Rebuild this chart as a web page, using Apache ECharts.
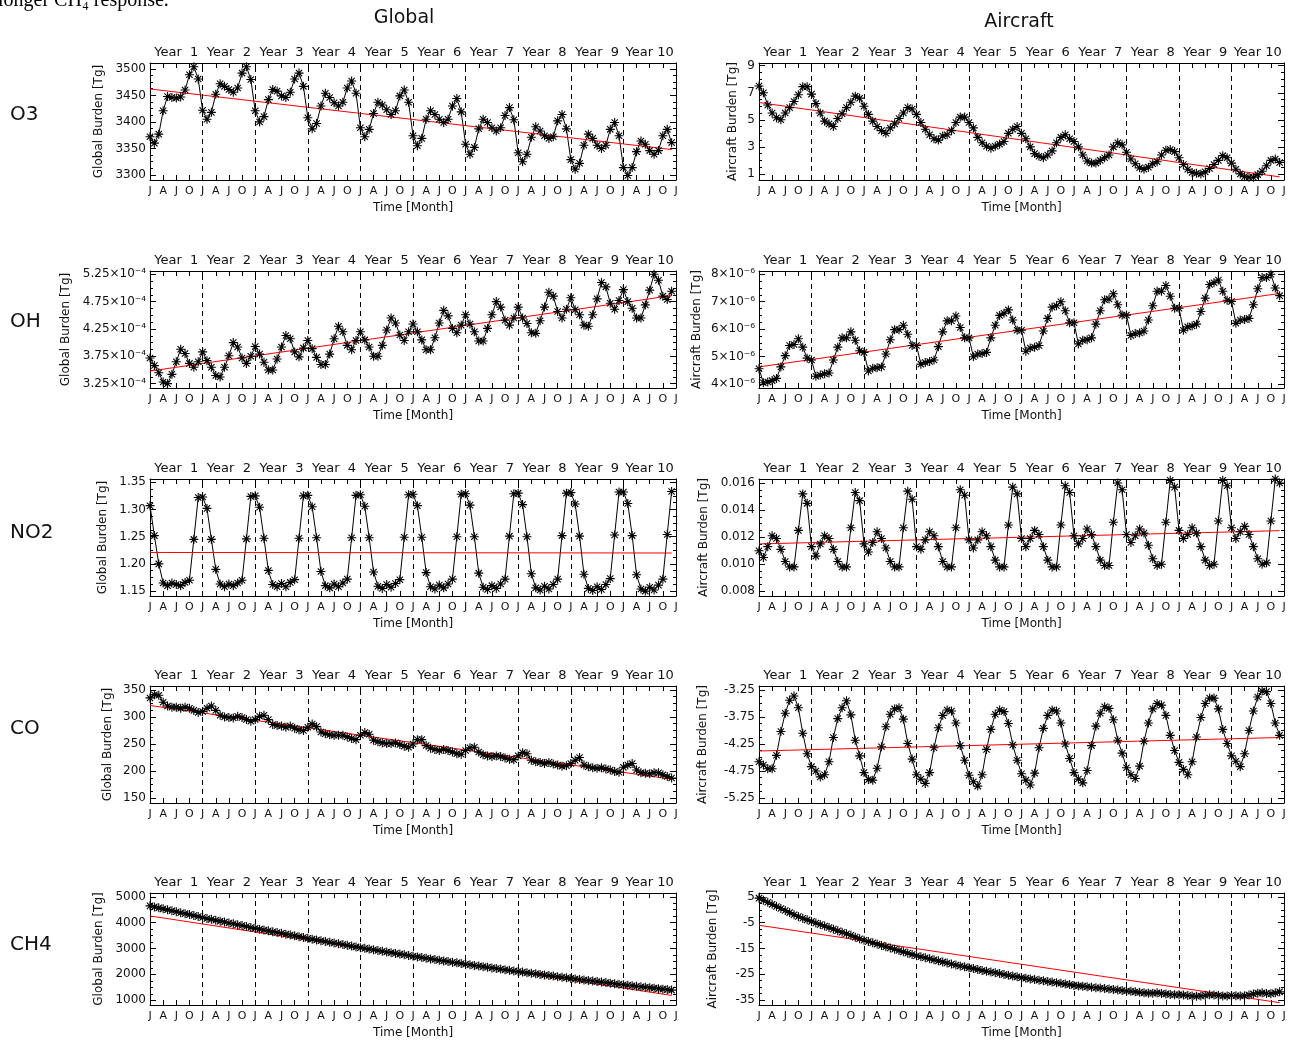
<!DOCTYPE html>
<html><head><meta charset="utf-8">
<script src="https://cdn.jsdelivr.net/npm/echarts@6/dist/echarts.min.js"></script>
<style>html,body{margin:0;padding:0;background:#fff}#c{width:1297px;height:1040px}</style>
</head><body><div id="c"></div><script>
const monthLabels = ['J','A','J','O'];
const yearLabels = ['Year  1','Year  2','Year  3','Year  4','Year  5','Year  6','Year  7','Year  8','Year  9','Year 10'];
const yearBoundaries = [12,24,36,48,60,72,84,96,108];
const rowNames = ['O3','OH','NO2','CO','CH4'];

const o3Global = [
3372,3360,3377,3421,3448,3446,3445,3447,3460,3489,3504,3481,
3422,3405,3418,3452,3472,3467,3461,3456,3464,3492,3504,3480,
3421,3400,3410,3442,3461,3458,3449,3446,3456,3481,3492,3467,
3408,3387,3397,3430,3454,3446,3436,3430,3437,3464,3477,3454,
3389,3372,3386,3416,3437,3432,3423,3414,3421,3449,3460,3437,
3374,3355,3369,3405,3421,3414,3405,3399,3405,3430,3444,3419,
3358,3339,3352,3387,3405,3399,3389,3383,3389,3412,3427,3404,
3342,3325,3339,3371,3391,3383,3374,3369,3372,3402,3414,3387,
3329,3311,3322,3356,3377,3369,3356,3350,3356,3386,3399,3374,
3314,3299,3314,3344,3364,3358,3346,3339,3346,3374,3386,3361];
const o3Aircraft = [
7.5,7.0,6.1,5.5,5.15,5.0,5.5,5.9,6.35,6.85,7.45,7.45,
6.9,6.2,5.5,4.9,4.7,4.5,5.1,5.45,5.9,6.3,6.75,6.6,
6.0,5.4,4.9,4.5,4.2,4.0,4.4,4.7,5.1,5.5,5.9,5.8,
5.4,4.8,4.3,3.9,3.6,3.5,3.8,3.9,4.2,4.8,5.2,5.2,
4.8,4.4,3.7,3.3,3.05,2.9,3.05,3.2,3.4,4.0,4.3,4.5,
4.0,3.6,3.0,2.5,2.3,2.2,2.4,2.7,3.3,3.7,3.9,3.6,
3.4,3.0,2.4,1.95,1.8,1.8,2.0,2.2,2.4,3.0,3.3,3.15,
2.6,2.1,1.75,1.45,1.35,1.5,1.75,1.9,2.4,2.75,2.8,2.65,
2.2,1.7,1.35,1.1,1.05,1.0,1.15,1.4,1.7,2.0,2.35,2.2,
1.8,1.35,1.0,0.8,0.75,0.75,0.95,1.2,1.6,2.0,2.1,1.85];
// OH global in units of 1e-4 Tg
const ohGlobalE4 = [
3.72,3.58,3.45,3.28,3.25,3.42,3.65,3.88,3.80,3.62,3.55,3.65,
3.83,3.67,3.55,3.40,3.37,3.55,3.76,4.00,3.92,3.72,3.62,3.75,
3.93,3.79,3.64,3.50,3.50,3.70,3.92,4.13,4.07,3.83,3.74,3.90,
4.04,3.89,3.73,3.60,3.60,3.79,4.07,4.30,4.20,3.95,3.87,4.04,
4.20,4.05,3.92,3.75,3.75,3.95,4.23,4.45,4.36,4.14,4.04,4.20,
4.34,4.20,4.05,3.87,3.87,4.09,4.36,4.59,4.49,4.26,4.18,4.32,
4.51,4.34,4.20,4.03,4.03,4.26,4.51,4.75,4.65,4.41,4.32,4.45,
4.65,4.45,4.35,4.18,4.17,4.40,4.65,4.92,4.85,4.57,4.45,4.61,
4.82,4.60,4.51,4.32,4.30,4.51,4.80,5.10,5.02,4.72,4.61,4.77,
4.97,4.75,4.63,4.45,4.45,4.69,4.96,5.25,5.14,4.85,4.79,4.94];
// OH aircraft in units of 1e-6 Tg
const ohAircraftE6 = [
4.55,4.04,4.07,4.12,4.20,4.62,5.03,5.40,5.44,5.65,5.34,4.94,
4.87,4.28,4.32,4.37,4.40,4.87,5.34,5.68,5.68,5.90,5.59,5.21,
5.15,4.47,4.57,4.59,4.62,5.09,5.61,5.98,5.98,6.14,5.81,5.40,
5.40,4.72,4.78,4.82,4.87,5.36,5.90,6.30,6.30,6.48,6.06,5.68,
5.68,4.99,5.09,5.11,5.15,5.68,6.14,6.50,6.58,6.70,6.33,5.96,
5.96,5.19,5.31,5.34,5.40,5.93,6.39,6.80,6.85,7.00,6.67,6.23,
6.23,5.46,5.59,5.61,5.68,6.18,6.67,7.07,7.10,7.29,6.89,6.51,
6.51,5.77,5.84,5.86,5.93,6.33,6.85,7.38,7.38,7.59,7.20,6.76,
6.76,5.96,6.08,6.11,6.18,6.64,7.13,7.63,7.69,7.79,7.38,7.05,
7.01,6.21,6.33,6.35,6.39,6.89,7.47,7.88,7.88,8.00,7.50,7.22];
const no2Global = [
1.307,1.252,1.200,1.165,1.160,1.165,1.162,1.160,1.166,1.170,1.245,1.322,
1.323,1.302,1.245,1.190,1.163,1.158,1.163,1.160,1.165,1.170,1.246,1.324,
1.325,1.304,1.247,1.188,1.162,1.158,1.164,1.158,1.166,1.171,1.247,1.325,
1.326,1.305,1.248,1.186,1.160,1.156,1.163,1.158,1.165,1.172,1.248,1.326,
1.327,1.306,1.248,1.185,1.159,1.155,1.162,1.157,1.164,1.171,1.249,1.327,
1.328,1.307,1.249,1.184,1.158,1.154,1.161,1.156,1.163,1.172,1.250,1.328,
1.329,1.308,1.250,1.183,1.157,1.153,1.160,1.155,1.163,1.172,1.251,1.329,
1.330,1.309,1.250,1.182,1.156,1.152,1.159,1.154,1.162,1.172,1.252,1.330,
1.331,1.310,1.251,1.181,1.155,1.151,1.158,1.153,1.162,1.173,1.253,1.332,
1.332,1.311,1.252,1.180,1.154,1.150,1.157,1.152,1.161,1.172,1.254,1.333];
const no2Aircraft = [
0.0110,0.0105,0.0113,0.0121,0.0119,0.0111,0.0102,0.0098,0.0098,0.0125,0.0152,0.0145,
0.0113,0.0106,0.0115,0.0121,0.0119,0.0111,0.0102,0.0098,0.0098,0.0127,0.0153,0.0147,
0.0115,0.0109,0.0116,0.0124,0.0119,0.0112,0.0102,0.0098,0.0098,0.0127,0.0154,0.0148,
0.0113,0.0111,0.0118,0.0124,0.0121,0.0113,0.0102,0.0098,0.0098,0.0127,0.0155,0.0151,
0.0118,0.0112,0.0118,0.0124,0.0121,0.0113,0.0103,0.0098,0.0098,0.0129,0.0157,0.0152,
0.0119,0.0113,0.0119,0.0125,0.0122,0.0113,0.0103,0.0098,0.0098,0.0129,0.0158,0.0153,
0.0121,0.0115,0.0119,0.0126,0.0122,0.0113,0.0103,0.0099,0.0099,0.0131,0.0160,0.0155,
0.0122,0.0116,0.0121,0.0126,0.0123,0.0114,0.0104,0.0099,0.0100,0.0131,0.0162,0.0157,
0.0125,0.0119,0.0122,0.0127,0.0123,0.0113,0.0103,0.0099,0.0100,0.0132,0.0162,0.0158,
0.0127,0.0119,0.0124,0.0128,0.0122,0.0113,0.0104,0.0100,0.0101,0.0132,0.0163,0.0160];
const coGlobal = [
335,341,340,327,320,318,318,316,318,316,312,308,
310,316,320,312,303,300,299,298,301,299,295,292,
295,301,303,295,286,284,283,281,283,279,276,275,
281,287,282,272,269,267,266,266,266,263,260,258,
266,271,268,257,254,252,251,251,252,249,246,244,
250,258,258,247,242,240,238,240,238,235,232,231,
238,243,244,235,230,228,227,228,227,224,222,221,
228,234,232,220,217,216,214,216,213,211,209,210,
214,220,225,211,208,206,205,206,204,202,199,198,
207,211,214,202,197,196,195,197,197,193,190,187];
const coAircraft = [
-4.58,-4.64,-4.71,-4.71,-4.46,-4.02,-3.68,-3.44,-3.36,-3.58,-4.05,-4.43,
-4.67,-4.75,-4.86,-4.82,-4.58,-4.13,-3.78,-3.58,-3.45,-3.71,-4.18,-4.47,
-4.78,-4.91,-4.92,-4.70,-4.30,-3.93,-3.70,-3.60,-3.58,-3.79,-4.24,-4.53,
-4.82,-4.90,-4.98,-4.78,-4.32,-3.95,-3.72,-3.62,-3.64,-3.86,-4.28,-4.55,
-4.83,-4.95,-5.03,-4.82,-4.35,-3.98,-3.70,-3.62,-3.65,-3.87,-4.27,-4.55,
-4.80,-4.92,-5.01,-4.79,-4.32,-3.96,-3.72,-3.62,-3.64,-3.86,-4.25,-4.52,
-4.78,-4.90,-4.97,-4.74,-4.28,-3.92,-3.68,-3.56,-3.59,-3.80,-4.18,-4.42,
-4.69,-4.82,-4.89,-4.66,-4.20,-3.86,-3.60,-3.50,-3.53,-3.72,-4.09,-4.37,
-4.59,-4.72,-4.82,-4.58,-4.12,-3.76,-3.50,-3.40,-3.40,-3.60,-3.98,-4.24,
-4.47,-4.57,-4.67,-4.43,-4.00,-3.64,-3.38,-3.27,-3.28,-3.50,-3.86,-4.09];
const ch4Global = [
4650,4611,4573,4535,4497,4460,4423,4386,4349,4312,4275,4237,
4199,4164,4129,4094,4059,4024,3990,3956,3922,3888,3850,3815,
3781,3749,3716,3684,3652,3620,3588,3556,3524,3492,3459,3426,
3393,3363,3333,3303,3273,3243,3213,3183,3153,3123,3093,3063,
3034,3006,2978,2950,2923,2895,2867,2840,2812,2784,2757,2729,
2702,2676,2651,2625,2599,2574,2548,2522,2497,2471,2445,2420,
2394,2370,2346,2323,2299,2275,2251,2228,2204,2180,2157,2133,
2109,2087,2065,2043,2021,1999,1977,1955,1933,1911,1889,1867,
1844,1824,1803,1783,1762,1742,1722,1701,1681,1660,1640,1620,
1599,1580,1561,1542,1523,1505,1486,1467,1448,1429,1410,1391];
const ch4Aircraft = [
4.5,3.7,2.9,2.1,1.3,0.5,-0.3,-1.1,-1.9,-2.6,-3.3,-3.9,
-4.5,-5.1,-5.7,-6.3,-6.9,-7.5,-8.1,-8.7,-9.3,-9.9,-10.6,-11.2,
-11.8,-12.3,-12.8,-13.3,-13.8,-14.3,-14.8,-15.3,-15.8,-16.3,-16.8,-17.3,
-17.8,-18.2,-18.6,-19.0,-19.4,-19.8,-20.2,-20.6,-21.0,-21.4,-21.8,-22.1,
-22.5,-22.8,-23.1,-23.5,-23.8,-24.1,-24.4,-24.7,-25.1,-25.4,-25.7,-26.0,
-26.3,-26.5,-26.8,-27.0,-27.3,-27.5,-27.8,-28.0,-28.3,-28.5,-28.8,-29.0,
-29.3,-29.5,-29.6,-29.8,-30.0,-30.2,-30.3,-30.5,-30.7,-30.9,-31.1,-31.3,
-31.5,-31.6,-31.8,-32.0,-32.2,-32.3,-32.3,-32.2,-32.4,-32.6,-32.8,-32.9,
-32.9,-33.0,-33.2,-33.4,-33.5,-33.4,-33.1,-32.9,-33.0,-33.2,-33.4,-33.4,
-33.2,-33.3,-33.4,-33.3,-33.0,-32.6,-32.3,-32.2,-32.4,-32.5,-32.2,-31.8];

// linear trend lines: [value at first month, value at last month]
const o3GlobalTrend = [3462, 3348];
const o3AircraftTrend = [6.28, 0.78];
const ohGlobalTrendE4 = [3.48, 4.86];
const ohAircraftTrendE6 = [4.62, 7.30];
const no2GlobalTrend = [1.221, 1.220];
const no2AircraftTrend = [0.0115, 0.01248];
const coGlobalTrend = [321, 185];
const coAircraftTrend = [-4.38, -4.13];
const ch4GlobalTrend = [4260, 1185];
const ch4AircraftTrend = [-6.0, -36.0];

// y tick labels
const o3GlobalTicks = [3300,3350,3400,3450,3500];
const o3AircraftTicks = [1,3,5,7,9];
const ohGlobalTicksE4 = [3.25,3.75,4.25,4.75,5.25];
const ohAircraftTicksE6 = [4,5,6,7,8];
const no2GlobalTicks = [1.15,1.20,1.25,1.30,1.35];
const no2AircraftTicks = [0.008,0.010,0.012,0.014,0.016];
const coGlobalTicks = [150,200,250,300,350];
const coAircraftTicks = [-5.25,-4.75,-4.25,-3.75,-3.25];
const ch4GlobalTicks = [1000,2000,3000,4000,5000];
const ch4AircraftTicks = [-35,-25,-15,-5,5];

const FONT = '"DejaVu Sans", "Liberation Sans", sans-serif';
const TXT = '#111';
const rowTops = [63, 271, 479, 686, 893];
const GN = 'Global Burden [Tg]', AN = 'Aircraft Burden [Tg]';

const panels = [
 {row:0,col:0,data:o3Global,trend:o3GlobalTrend,ticks:o3GlobalTicks,range:[3290.6,3511],scale:1,fmt:v=>v.toFixed(0),name:GN,gap:45},
 {row:0,col:1,data:o3Aircraft,trend:o3AircraftTrend,ticks:o3AircraftTicks,range:[0.55,9.2],scale:1,fmt:v=>v.toFixed(0),name:AN,gap:20},
 {row:1,col:0,data:ohGlobalE4,trend:ohGlobalTrendE4,ticks:ohGlobalTicksE4,range:[3.17,5.31],scale:1e-4,fmt:v=>(v/1e-4).toFixed(2)+'×10⁻⁴',name:GN,gap:78},
 {row:1,col:1,data:ohAircraftE6,trend:ohAircraftTrendE6,ticks:ohAircraftTicksE6,range:[3.85,8.12],scale:1e-6,fmt:v=>(v/1e-6).toFixed(0)+'×10⁻⁶',name:AN,gap:56},
 {row:2,col:0,data:no2Global,trend:no2GlobalTrend,ticks:no2GlobalTicks,range:[1.141,1.356],scale:1,fmt:v=>v.toFixed(2),name:GN,gap:41},
 {row:2,col:1,data:no2Aircraft,trend:no2AircraftTrend,ticks:no2AircraftTicks,range:[0.00765,0.0163],scale:1,fmt:v=>v.toFixed(3),name:AN,gap:49},
 {row:3,col:0,data:coGlobal,trend:coGlobalTrend,ticks:coGlobalTicks,range:[141,357],scale:1,fmt:v=>v.toFixed(0),name:GN,gap:36},
 {row:3,col:1,data:coAircraft,trend:coAircraftTrend,ticks:coAircraftTicks,range:[-5.343,-3.176],scale:1,fmt:v=>v.toFixed(2),name:AN,gap:50},
 {row:4,col:0,data:ch4Global,trend:ch4GlobalTrend,ticks:ch4GlobalTicks,range:[815,5148],scale:1,fmt:v=>v.toFixed(0),name:GN,gap:45},
 {row:4,col:1,data:ch4Aircraft,trend:ch4AircraftTrend,ticks:ch4AircraftTicks,range:[-36.9,6.5],scale:1,fmt:v=>v.toFixed(0),name:AN,gap:40}
];

const STAR = 'path://M5,0L5,10M0,5L10,5M1.5,1.5L8.5,8.5M1.5,8.5L8.5,1.5';
const grids=[], xAxes=[], yAxes=[], series=[];
const lineAx = {show:true, onZero:false, lineStyle:{color:'#000', width:1}};
const noLine = {show:false, onZero:false};
panels.forEach((p,g)=>{
  const left = p.col===0 ? 150 : 759, width = p.col===0 ? 526 : 525, top = rowTops[p.row];
  grids.push({left, top, width, height:117});
  const s = p.scale;
  const min = p.range[0]*s, max = p.range[1]*s;
  const majors = p.ticks.map(v=>v*s);
  const step = (p.ticks[1]-p.ticks[0])/4;
  const minors = [];
  for (let k=-8; k<=24; k++) { const v = p.ticks[0] + k*step; if (v>=p.range[0] && v<=p.range[1] && k%4!==0) minors.push(v*s); }
  xAxes.push({gridIndex:g, type:'value', min:0, max:120, interval:3, position:'bottom',
    axisLine:lineAx, axisTick:{inside:true, length:5, lineStyle:{color:'#000'}}, splitLine:{show:false},
    axisLabel:{margin:6, fontSize:11, fontFamily:FONT, color:TXT, showMinLabel:true, showMaxLabel:true,
      formatter:v=>monthLabels[Math.round(v/3)%4]},
    name:'Time [Month]', nameLocation:'middle', nameGap:22, nameTextStyle:{fontSize:12, fontFamily:FONT, color:TXT}});
  xAxes.push({gridIndex:g, type:'value', min:0, max:120, interval:3, position:'top',
    axisLine:lineAx, axisTick:{inside:true, length:5, lineStyle:{color:'#000'}}, splitLine:{show:false},
    axisLabel:{margin:4, fontSize:13, fontFamily:FONT, color:TXT,
      formatter:v=>{const r=Math.round(v); return (r%12===6) ? yearLabels[(r-6)/12] : '';}}});
  const yBase = {gridIndex:g, type:'value', min, max, splitLine:{show:false}};
  yAxes.push(Object.assign({}, yBase, {position:'left', axisLine:lineAx,
    axisTick:{inside:true, length:6, customValues:majors, lineStyle:{color:'#000'}},
    axisLabel:{customValues:majors, formatter:p.fmt, margin:4, fontSize:12, fontFamily:FONT, color:TXT},
    name:p.name, nameLocation:'middle', nameRotate:90, nameGap:p.gap, nameTextStyle:{fontSize:12, fontFamily:FONT, color:TXT}}));
  yAxes.push(Object.assign({}, yBase, {position:'left', axisLine:noLine,
    axisTick:{inside:true, length:3, customValues:minors, lineStyle:{color:'#000'}}, axisLabel:{show:false}}));
  yAxes.push(Object.assign({}, yBase, {position:'right', axisLine:lineAx,
    axisTick:{inside:true, length:6, customValues:majors, lineStyle:{color:'#000'}}, axisLabel:{show:false}}));
  yAxes.push(Object.assign({}, yBase, {position:'right', axisLine:noLine,
    axisTick:{inside:true, length:3, customValues:minors, lineStyle:{color:'#000'}}, axisLabel:{show:false}}));
  series.push({type:'line', xAxisIndex:2*g, yAxisIndex:4*g, data:p.data.map((v,i)=>[i, v*s]),
    symbol:STAR, symbolSize:9, showAllSymbol:true, lineStyle:{color:'#000', width:1},
    itemStyle:{color:'#000', borderColor:'#000', borderWidth:1.1}, silent:true,
    markLine:{silent:true, symbol:['none','none'], label:{show:false},
      lineStyle:{color:'#000', width:1, type:[5,4]}, data:yearBoundaries.map(x=>({xAxis:x}))}});
  series.push({type:'line', xAxisIndex:2*g, yAxisIndex:4*g, data:[[0,p.trend[0]*s],[119,p.trend[1]*s]],
    symbol:'none', lineStyle:{color:'#ff0000', width:1}, silent:true, z:3});
});

const graphic = [
  {type:'text', left:-2, top:-9, style:{text:'longer CH₄ response.', font:'20px "Liberation Serif", serif', fill:'#000'}},
  {type:'text', style:{text:'Global', x:404, y:18, font:'19px '+FONT, fill:TXT, textAlign:'center', textVerticalAlign:'middle', align:'center', verticalAlign:'middle'}},
  {type:'text', style:{text:'Aircraft', x:1019, y:22, font:'19px '+FONT, fill:TXT, textAlign:'center', textVerticalAlign:'middle', align:'center', verticalAlign:'middle'}}
];
const rowLabelY = [115, 322, 533, 729, 945];
rowNames.forEach((n,i)=>graphic.push({type:'text', style:{text:n, x:10, y:rowLabelY[i], font:'20px '+FONT, fill:TXT, textVerticalAlign:'middle', verticalAlign:'middle'}}));

const chart = echarts.init(document.getElementById('c'), null, {renderer:'canvas'});
chart.setOption({animation:false, backgroundColor:'#fff', grid:grids, xAxis:xAxes, yAxis:yAxes, series, graphic});
</script></body></html>
